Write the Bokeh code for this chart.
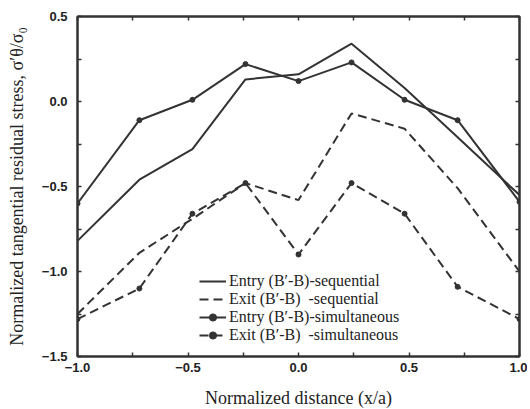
from bokeh.plotting import figure
from bokeh.models import LinearAxis, FixedTicker, Legend, LegendItem, Range1d
from bokeh.embed import file_html
from bokeh.resources import INLINE

# ---- data ----
x_pos = [-1.0, -0.72, -0.48, -0.24, 0.0, 0.24, 0.48, 0.72, 1.0]
entry_seq = [-0.82, -0.46, -0.28, 0.13, 0.16, 0.34, 0.08, -0.21, -0.55]
exit_seq = [-1.25, -0.89, -0.69, -0.48, -0.58, -0.07, -0.16, -0.51, -1.00]
entry_sim = [-0.60, -0.11, 0.01, 0.22, 0.12, 0.23, 0.01, -0.11, -0.59]
exit_sim = [-1.28, -1.10, -0.66, -0.48, -0.90, -0.48, -0.66, -1.09, -1.28]

series_labels = [
    "Entry (B\u2032-B)-sequential",
    "Exit (B\u2032-B)\u00a0\u00a0-sequential",
    "Entry (B\u2032-B)-simultaneous",
    "Exit (B\u2032-B)\u00a0\u00a0-simultaneous",
]

x_ticks = [-1.0, -0.5, 0.0, 0.5, 1.0]
x_tick_labels = ["\u22121.0", "\u22120.5", "0.0", "0.5", "1.0"]
x_minor = [-0.75, -0.25, 0.25, 0.75]
y_ticks = [-1.5, -1.0, -0.5, 0.0, 0.5]
y_tick_labels = ["\u22121.5", "\u22121.0", "\u22120.5", "0.0", "0.5"]
y_minor = [-1.25, -0.75, -0.25, 0.25]

x_label = "Normalized distance (x/a)"
y_label = "Normalized tangential residual stress, \u03c3\u2032\u03b8/\u03c3\u2080"

INK = "#333333"
SERIF = "Liberation Serif"
SANS = "Liberation Sans"

p = figure(frame_width=442, frame_height=340,
           x_range=Range1d(-1.0, 1.0), y_range=Range1d(-1.5, 0.5),
           output_backend="svg", toolbar_location=None,
           min_border_left=77, min_border_right=8,
           min_border_top=16, min_border_bottom=50,
           x_axis_label=x_label, y_axis_label=y_label)
p.background_fill_color = "white"
p.border_fill_color = "white"
p.grid.visible = False
p.outline_line_color = INK
p.outline_line_width = 2

def style_axis(ax, ticks, minor, labels, show_labels=True):
    ax.ticker = FixedTicker(ticks=ticks, minor_ticks=minor)
    ax.axis_line_color = INK
    ax.axis_line_width = 2
    ax.major_tick_line_color = INK
    ax.minor_tick_line_color = INK
    ax.major_tick_line_width = 1.5
    ax.minor_tick_line_width = 1.5
    ax.major_tick_in = 4
    ax.major_tick_out = 0
    ax.minor_tick_in = 4
    ax.minor_tick_out = 0
    if show_labels:
        ax.major_label_overrides = {t: l for t, l in zip(ticks, labels)}
        ax.major_label_text_font = SANS
        ax.major_label_text_font_style = "bold"
        ax.major_label_text_font_size = "13px"
        ax.major_label_text_color = "#222222"
        ax.axis_label_text_font = SERIF
        ax.axis_label_text_font_style = "normal"
        ax.axis_label_text_font_size = "18px"
        ax.axis_label_text_color = "#222222"
    else:
        ax.major_label_text_font_size = "0px"
        ax.major_label_standoff = 0
        ax.major_label_overrides = {t: "" for t in ticks}

xa = p.xaxis[0]
ya = p.yaxis[0]
style_axis(xa, x_ticks, x_minor, x_tick_labels)
style_axis(ya, y_ticks, y_minor, y_tick_labels)
xa.major_label_standoff = 6
xa.axis_label_standoff = 13
ya.major_label_standoff = 10
ya.axis_label_standoff = 12

top = LinearAxis()
right = LinearAxis()
style_axis(top, x_ticks, x_minor, x_tick_labels, show_labels=False)
style_axis(right, y_ticks, y_minor, y_tick_labels, show_labels=False)
p.add_layout(top, "above")
p.add_layout(right, "right")

items = []
r1 = p.line(x_pos, entry_seq, line_color=INK, line_width=2)
items.append(LegendItem(label=series_labels[0], renderers=[r1]))
r2 = p.line(x_pos, exit_seq, line_color=INK, line_width=2, line_dash="9 5")
items.append(LegendItem(label=series_labels[1], renderers=[r2]))
r3 = p.line(x_pos, entry_sim, line_color=INK, line_width=2)
m3 = p.scatter(x_pos, entry_sim, size=5, marker="circle", fill_color=INK, line_color=INK)
items.append(LegendItem(label=series_labels[2], renderers=[r3, m3]))
r4 = p.line(x_pos, exit_sim, line_color=INK, line_width=2, line_dash="9 5")
m4 = p.scatter(x_pos, exit_sim, size=5, marker="circle", fill_color=INK, line_color=INK)
items.append(LegendItem(label=series_labels[3], renderers=[r4, m4]))

legend = Legend(items=items, location=(122, 12))
legend.glyph_width = 27
legend.glyph_height = 18
legend.label_height = 18
legend.label_standoff = 3
legend.spacing = 0
legend.padding = 0
legend.margin = 0
legend.border_line_alpha = 0
legend.background_fill_alpha = 0
legend.label_text_font = SERIF
legend.label_text_font_size = "16px"
legend.label_text_color = "#222222"
p.add_layout(legend, "center")

open("out.html", "w").write(file_html(p, INLINE))
